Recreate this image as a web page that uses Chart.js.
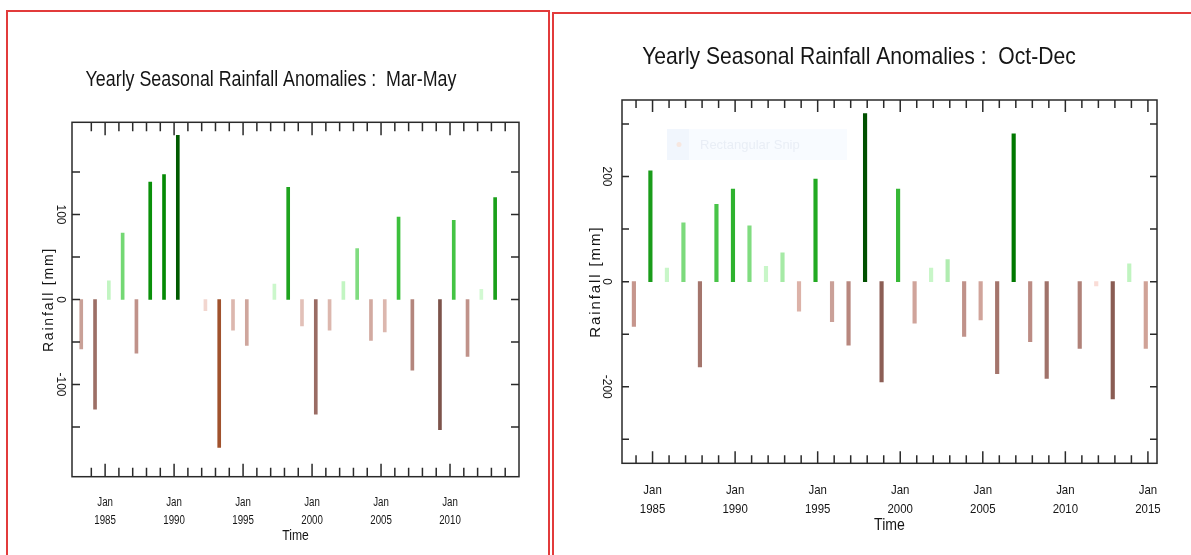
<!DOCTYPE html>
<html>
<head>
<meta charset="utf-8">
<script src="https://cdn.jsdelivr.net/npm/chart.js@4/dist/chart.umd.min.js"></script>
<style>
  html, body { margin: 0; padding: 0; background: #fff; width: 1191px; height: 555px; overflow: hidden; }
  body { position: relative; }
  .panel { position: absolute; box-sizing: border-box; border: 2px solid #e23b3b; border-bottom: none; }
  #panelMam { left: 6px; top: 10px; width: 544px; height: 560px; }
  #panelOnd { left: 552px; top: 12px; width: 660px; height: 560px; border-right: none; }
  canvas { position: absolute; top: 0; }
  #mamChart { left: 23px; }
  #ondChart { left: 561px; }
</style>
</head>
<body>
<div class="panel" id="panelMam"></div>
<div class="panel" id="panelOnd"></div>
<canvas id="mamChart" width="498" height="555"></canvas>
<canvas id="ondChart" width="606" height="555"></canvas>
<script>
// ---- Seasonal rainfall anomalies (mm) ----
const mamYears = [1983, 1984, 1985, 1986, 1987, 1988, 1989, 1990, 1991, 1992, 1993, 1994, 1995, 1996, 1997, 1998,
                  1999, 2000, 2001, 2002, 2003, 2004, 2005, 2006, 2007, 2008, 2009, 2010, 2011, 2012, 2013];
const mamRain  = [-58, -129, 22, 78, -63, 138, 147, 193, 0, -13, -174, -36, -54, 0, 18, 132,
                  -31, -135, -36, 21, 60, -48, -38, 97, -83, 0, -153, 93, -67, 12, 120];

const ondYears = [1983, 1984, 1985, 1986, 1987, 1988, 1989, 1990, 1991, 1992, 1993, 1994, 1995, 1996, 1997, 1998,
                  1999, 2000, 2001, 2002, 2003, 2004, 2005, 2006, 2007, 2008, 2009, 2010, 2011, 2012, 2013, 2014];
const ondRain  = [-85, 211, 26, 112, -162, 147, 176, 106, 29, 55, -56, 195, -76, -121, 320, -191,
                  176, -79, 26, 42, -104, -73, -175, 281, -114, -184, 0, -127, -8, -223, 34, -127];

// bar colours, one per year
const mamColours = ['#c9a097', '#9d6f66', '#c2f5c2', '#74d874', '#c0928a', '#0a900a', '#058a05', '#005a00',
                    'rgba(0,0,0,0)', '#f2d6cf', '#a0522d', '#dcb7ae', '#cfa69d', 'rgba(0,0,0,0)', '#cbf7cb', '#1ea31e',
                    '#e2c0b8', '#9a6c64', '#dcb7ae', '#c2f5c2', '#80dc80', '#d2aaa1', '#dcb7ae', '#3cc03c',
                    '#b4867d', 'rgba(0,0,0,0)', '#7d534b', '#44c444', '#c0928a', '#d2f9d2', '#1aa01a'];
const ondColours = ['#c6968d', '#1a9c1a', '#c8f6c8', '#7cda7c', '#a4756c', '#48c448', '#2eb22e', '#80dc80',
                    '#c8f6c8', '#a6eaa6', '#dcb2a8', '#22aa22', '#caa098', '#b8877e', '#005000', '#8c5e55',
                    '#36b836', '#d0a49b', '#c8f6c8', '#b0ecb0', '#c0928a', '#d0a49b', '#a4756c', '#007800',
                    '#bc8c84', '#a0726a', 'rgba(0,0,0,0)', '#b08178', '#fadcd6', '#8a5c53', '#c0f4c0', '#d0a297'];

// axis ticks and labels
const mamTickYears  = [1984, 1985, 1986, 1987, 1988, 1989, 1990, 1991, 1992, 1993, 1994, 1995, 1996, 1997, 1998, 1999,
                       2000, 2001, 2002, 2003, 2004, 2005, 2006, 2007, 2008, 2009, 2010, 2011, 2012, 2013, 2014];
const ondTickYears  = [1984, 1985, 1986, 1987, 1988, 1989, 1990, 1991, 1992, 1993, 1994, 1995, 1996, 1997, 1998, 1999,
                       2000, 2001, 2002, 2003, 2004, 2005, 2006, 2007, 2008, 2009, 2010, 2011, 2012, 2013, 2014, 2015];
const mamLabelYears = [1985, 1990, 1995, 2000, 2005, 2010];
const ondLabelYears = [1985, 1990, 1995, 2000, 2005, 2010, 2015];
const mamRainTicks  = [-150, -100, -50, 0, 50, 100, 150];
const mamRainLabels = [-100, 0, 100];
const ondRainTicks  = [-300, -200, -100, 0, 100, 200, 300];
const ondRainLabels = [-200, 0, 200];

// each bar sits at the middle of its season, as a fraction of the year
const MAM_CENTRE = 0.27;
const OND_CENTRE = 0.87;

const FACE = '"Liberation Sans", Arial, sans-serif';
const INK = '#151515';

// ---- plugins ----
// plot frame with ticks pointing inwards on all four sides
const frameTicks = {
  id: 'frameTicks',
  afterDatasetsDraw(chart, args, o) {
    const { ctx, chartArea: a, scales: { x, y } } = chart;
    ctx.save();
    ctx.strokeStyle = o.colour;
    ctx.lineWidth = o.width;
    ctx.beginPath();
    o.yearTicks.forEach(yr => {
      const px = x.getPixelForValue(yr);
      const len = o.labelYears.includes(yr) ? o.major : o.minor;
      ctx.moveTo(px, a.bottom); ctx.lineTo(px, a.bottom - len);
      ctx.moveTo(px, a.top);    ctx.lineTo(px, a.top + len);
    });
    o.rainTicks.forEach(v => {
      const py = y.getPixelForValue(v);
      ctx.moveTo(a.left, py);  ctx.lineTo(a.left + o.side, py);
      ctx.moveTo(a.right, py); ctx.lineTo(a.right - o.side, py);
    });
    ctx.stroke();
    ctx.strokeRect(a.left, a.top, a.right - a.left, a.bottom - a.top);
    ctx.restore();
  }
};

// letter-spaced vertical axis title
const spacedRainTitle = {
  id: 'spacedRainTitle',
  beforeDraw(chart, args, o) {
    const s = chart.scales.y;
    if (!s || s.$spaced) return;
    const draw = s.drawTitle;
    s.drawTitle = function () {
      const ctx = this.ctx;
      ctx.save();
      if ('letterSpacing' in ctx) ctx.letterSpacing = o.spacing;
      draw.call(this);
      ctx.restore();
    };
    s.$spaced = true;
  }
};

// horizontal text (title, year labels, "Time") is set in a condensed width
const condensedText = {
  id: 'condensedText',
  beforeDraw(chart, args, o) {
    if (chart.$condensed) return;
    const squeeze = (obj, method) => {
      if (!obj) return;
      const orig = obj[method];
      obj[method] = function (...rest) {
        const ctx = chart.ctx;
        const fill = ctx.fillText;
        ctx.fillText = function (text, x, y) {
          this.save();
          this.translate(x, y);
          this.scale(o.factor, 1);
          fill.call(this, text, 0, 0);
          this.restore();
        };
        try { return orig.apply(this, rest); } finally { delete ctx.fillText; }
      };
    };
    squeeze(chart.titleBlock, 'draw');
    squeeze(chart.scales.x, 'drawLabels');
    squeeze(chart.scales.x, 'drawTitle');
    chart.$condensed = true;
  }
};

// faint screen-capture tooltip left over on the second panel
const snipOverlay = {
  id: 'snipOverlay',
  beforeDatasetsDraw(chart, args, o) {
    if (!o.show) return;
    const ctx = chart.ctx;
    ctx.save();
    ctx.fillStyle = '#f8fbff';
    ctx.fillRect(o.x, o.y, o.w, o.h);
    ctx.fillStyle = '#f1f6fd';
    ctx.fillRect(o.x, o.y, 22, o.h);
    ctx.fillStyle = '#f7e7e0';
    ctx.beginPath();
    ctx.arc(o.x + 12, o.y + o.h / 2, 2.5, 0, Math.PI * 2);
    ctx.fill();
    ctx.fillStyle = '#e9eef6';
    ctx.font = '13px "Liberation Sans", sans-serif';
    ctx.textBaseline = 'middle';
    ctx.fillText('Rectangular Snip', o.x + 33, o.y + o.h / 2 + 1);
    ctx.restore();
  }
};

// ---- chart builder ----
function rainfallChart(canvas, s) {
  const yLim = 1.08 * Math.max(...s.rain.map(Math.abs));
  return new Chart(canvas, {
    type: 'bar',
    data: {
      datasets: [{
        data: s.years.map((yr, i) => ({ x: yr + s.centre, y: s.rain[i] })),
        backgroundColor: s.colours,
        borderWidth: 0,
        barThickness: s.barWidth
      }]
    },
    options: {
      responsive: false,
      animation: false,
      devicePixelRatio: 1,
      layout: { padding: { top: 0, left: 0, right: s.padRight, bottom: 0 } },
      plugins: {
        legend: { display: false },
        tooltip: { enabled: false },
        title: {
          display: true, text: s.title, color: INK,
          font: { family: FACE, size: s.titleSize, weight: 'normal', lineHeight: 1.2 },
          padding: { top: s.titleTop, bottom: s.titleBottom }
        },
        frameTicks: {
          yearTicks: s.tickYears, labelYears: s.labelYears, rainTicks: s.rainTicks,
          major: s.major, minor: s.minor, side: s.side, colour: '#2a2a2a', width: 1.5
        },
        spacedRainTitle: { spacing: s.titleSpacing },
        condensedText: { factor: s.condense },
        snipOverlay: s.snip || { show: false }
      },
      scales: {
        x: {
          type: 'linear', min: s.xMin, max: s.xMax, offset: false,
          grid: { display: false, drawTicks: false },
          border: { display: false },
          afterBuildTicks: sc => { sc.ticks = s.labelYears.map(v => ({ value: v })); },
          afterFit: sc => { sc.height = s.xHeight; sc.paddingLeft = 0; sc.paddingRight = 0; },
          ticks: {
            autoSkip: false, maxRotation: 0, minRotation: 0, padding: s.xTickPad, color: INK,
            font: { family: FACE, size: s.tickSize, lineHeight: s.tickLine / s.tickSize },
            callback: v => ['Jan', String(v)]
          },
          title: {
            display: true, text: 'Time', color: INK,
            font: { family: FACE, size: s.timeSize, lineHeight: 1.2 },
            padding: { top: 0, bottom: s.timeBottom }
          }
        },
        y: {
          type: 'linear', min: -yLim, max: yLim,
          grid: { display: false, drawTicks: false },
          border: { display: false },
          afterBuildTicks: sc => { sc.ticks = s.rainTicks.map(v => ({ value: v })); },
          afterFit: sc => { sc.width = s.yWidth; sc.paddingTop = 0; sc.paddingBottom = 0; },
          ticks: {
            minRotation: -90, maxRotation: -90, crossAlign: 'center', padding: s.yTickPad, color: INK,
            font: { family: FACE, size: s.yTickSize },
            callback: v => (s.rainLabels.includes(v) ? String(v) : '')
          },
          title: {
            display: true, text: 'Rainfall [mm]', color: INK,
            font: { family: FACE, size: s.yTitleSize, lineHeight: 1.2 },
            padding: { top: s.yTitlePad, bottom: 0 }
          }
        }
      }
    },
    plugins: [frameTicks, spacedRainTitle, condensedText, snipOverlay]
  });
}

rainfallChart(document.getElementById('mamChart'), {
  title: 'Yearly Seasonal Rainfall Anomalies :  Mar-May',
  years: mamYears, rain: mamRain, colours: mamColours, centre: MAM_CENTRE,
  tickYears: mamTickYears, labelYears: mamLabelYears, rainTicks: mamRainTicks, rainLabels: mamRainLabels,
  xMin: 1982.6, xMax: 2015.0, barWidth: 3, condense: 0.81,
  padRight: 2, yWidth: 49, xHeight: 78.3,
  titleSize: 22, titleTop: 66.3, titleBottom: 29.6,
  tickSize: 12, tickLine: 18, xTickPad: 16.5,
  timeSize: 15, timeBottom: 10,
  yTickSize: 12, yTickPad: 0, yTitleSize: 14, yTitlePad: 17.6, titleSpacing: '1.8px',
  major: 13, minor: 9, side: 8
});

rainfallChart(document.getElementById('ondChart'), {
  title: 'Yearly Seasonal Rainfall Anomalies :  Oct-Dec',
  years: ondYears, rain: ondRain, colours: ondColours, centre: OND_CENTRE,
  tickYears: ondTickYears, labelYears: ondLabelYears, rainTicks: ondRainTicks, rainLabels: ondRainLabels,
  xMin: 1983.15, xMax: 2015.55, barWidth: 3.5, condense: 0.88,
  padRight: 10, yWidth: 61, xHeight: 91.7,
  titleSize: 24, titleTop: 42.6, titleBottom: 28.6,
  tickSize: 13, tickLine: 19, xTickPad: 17.5,
  timeSize: 16, timeBottom: 19.4,
  yTickSize: 12, yTickPad: 3.3, yTitleSize: 15, yTitlePad: 26, titleSpacing: '1.9px',
  major: 12, minor: 8, side: 7,
  snip: { show: true, x: 106, y: 129, w: 180, h: 31 }
});
</script>
</body>
</html>
